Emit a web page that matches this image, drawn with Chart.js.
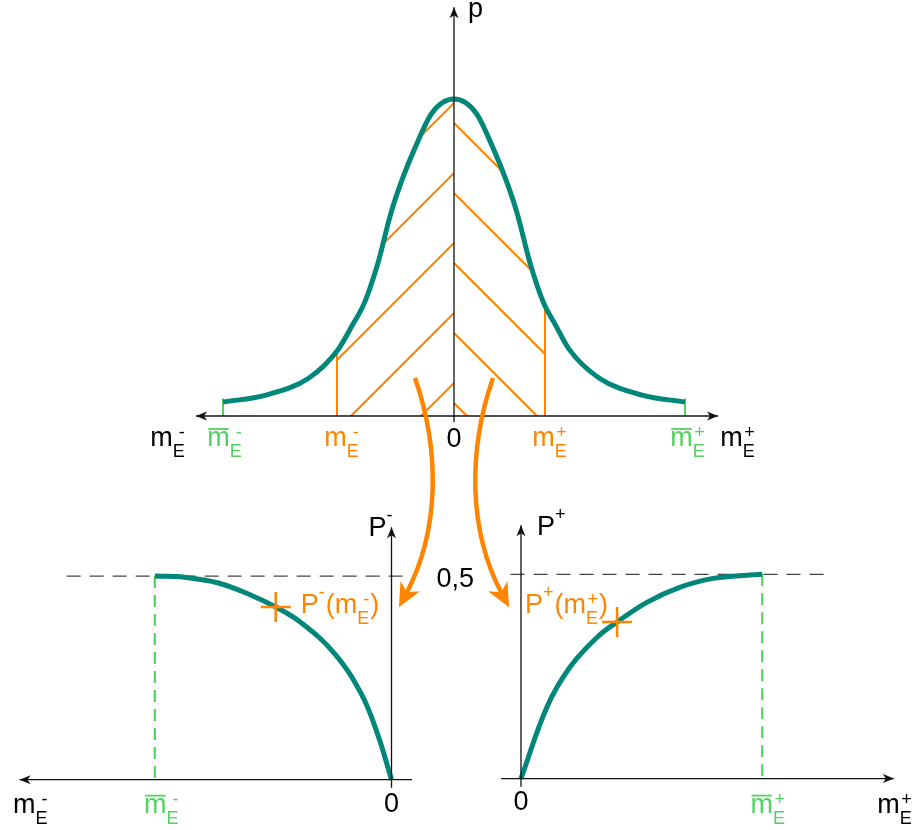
<!DOCTYPE html>
<html>
<head>
<meta charset="utf-8">
<title>Densité et probabilités</title>
<script src="https://cdn.jsdelivr.net/npm/chart.js"></script>
<style>
  html, body { margin: 0; padding: 0; background: #ffffff; }
  #wrap { position: relative; width: 917px; height: 830px; overflow: hidden; }
  #wrap canvas { position: absolute; left: 0; top: 0; }
</style>
</head>
<body>
<div id="wrap">
  <canvas id="densite" width="917" height="830"></canvas>
  <canvas id="probaMoins" width="917" height="830"></canvas>
  <canvas id="probaPlus" width="917" height="830"></canvas>
</div>
<script>
// densité p(m_E)
const densM = [-2.31, -1.88, -1.45, -1.17, -1.01, -0.91, -0.84, -0.76, -0.63, -0.52, -0.39, -0.22, 0,
               0.22, 0.39, 0.52, 0.63, 0.76, 0.84, 0.91, 1.01, 1.15, 1.45, 1.88, 2.31];
const densP = [0.044, 0.066, 0.12, 0.205, 0.29, 0.347, 0.404, 0.483, 0.641, 0.745, 0.846, 0.956, 1.00,
               0.956, 0.846, 0.745, 0.641, 0.483, 0.404, 0.347, 0.29, 0.211, 0.12, 0.066, 0.044];
const mMoins = -1.17;   // m_E^-
const mPlus = 0.91;     // m_E^+
const mBarre = 2.31;    // m̄_E
const demi = 0.5;

// P^-(m_E^-), axe orienté vers la gauche
const negM = [0, 0.14, 0.30, 0.56, 0.88, 1.13, 1.37, 1.69, 2.02, 2.31];
const negP = [0, 0.115, 0.213, 0.311, 0.385, 0.424, 0.453, 0.483, 0.497, 0.50];
const negPoint = [1.13, 0.424];

// P^+(m_E^+)
const posM = [0, 0.25, 0.47, 0.73, 0.92, 1.21, 1.52, 1.84, 2.31];
const posP = [0, 0.176, 0.273, 0.346, 0.383, 0.432, 0.468, 0.490, 0.50];
const posPoint = [0.92, 0.383];

// textes
const lblMmoins = [{n: 'm', b: 'E', p: '-'}];
const lblMplus = [{n: 'm', b: 'E', p: '+'}];
const lblBarMoins = [{n: 'm', b: 'E', p: '-', bar: true}];
const lblBarPlus = [{n: 'm', b: 'E', p: '+', bar: true}];
const lblZero = [{n: '0'}];
const lblDemi = [{n: '0,5'}];
const lblPMoins = [{n: 'P', p: '-'}];
const lblPPlus = [{n: 'P', p: '+'}];
const lblPdeMoins = [{n: 'P', p: '-'}, {n: '(m', b: 'E', p: '-'}, {n: ')'}];
const lblPdePlus = [{n: 'P', p: '+'}, {n: '(m', b: 'E', p: '+'}, {n: ')'}];

const TEAL = '#00877a', ORANGE = '#ff8400', GREEN = '#52d35f';
const FONT = '"Liberation Sans", Arial, sans-serif';

function head(ctx, tip, from, len, half, notch) {
  const a = Math.atan2(tip[1] - from[1], tip[0] - from[0]);
  ctx.save();
  ctx.translate(tip[0], tip[1]);
  ctx.rotate(a);
  ctx.beginPath();
  ctx.moveTo(0, 0);
  ctx.lineTo(-len, -half);
  ctx.lineTo(-len + notch, 0);
  ctx.lineTo(-len, half);
  ctx.closePath();
  ctx.fill();
  ctx.restore();
}

function bigArrow(ctx, pts) {
  const [S, C1, C2, E] = pts;
  ctx.strokeStyle = ORANGE;
  ctx.fillStyle = ORANGE;
  ctx.lineWidth = 4.5;
  ctx.beginPath();
  ctx.moveTo(S[0], S[1]);
  ctx.bezierCurveTo(C1[0], C1[1], C2[0], C2[1], E[0], E[1]);
  ctx.stroke();
  const dx = E[0] - C2[0], dy = E[1] - C2[1], d = Math.hypot(dx, dy);
  head(ctx, [E[0] + dx / d * 15, E[1] + dy / d * 15], E, 24, 11, 7);
}

// texte avec indice / exposant empilés
function drawMath(ctx, tok, x, y, align, color) {
  const big = '27px ' + FONT, small = '18px ' + FONT;
  const w = tok.map(t => {
    ctx.font = big;
    const wn = t.n ? ctx.measureText(t.n).width : 0;
    ctx.font = small;
    const wb = t.b ? ctx.measureText(t.b).width : 0;
    const wp = t.p ? ctx.measureText(t.p).width : 0;
    const ws = Math.max(wb, wp);
    return [wn, ws ? ws + 1 : 0, wb, wp];
  });
  const total = w.reduce((s, v) => s + v[0] + v[1], 0);
  let cx = align === 'center' ? x - total / 2 : x;
  ctx.fillStyle = color;
  ctx.strokeStyle = color;
  ctx.textAlign = 'left';
  ctx.textBaseline = 'alphabetic';
  tok.forEach((t, i) => {
    const [wn, ws, wb, wp] = w[i];
    ctx.font = big;
    if (t.n) ctx.fillText(t.n, cx, y);
    if (t.bar) {
      ctx.lineWidth = 1.8;
      ctx.beginPath();
      ctx.moveTo(cx + 1, y - 17);
      ctx.lineTo(cx + wn - 1, y - 17);
      ctx.stroke();
    }
    cx += wn;
    ctx.font = small;
    if (t.b) ctx.fillText(t.b, cx, y + 11);
    if (t.p) ctx.fillText(t.p, cx + (t.b ? wb - wp : 0), y + (t.b ? -8 : -15));
    cx += ws;
  });
}

function makeDecor(cfg) {
  return {
    id: 'decor',
    afterDatasetsDraw(chart) {
      const {ctx} = chart, sx = chart.scales.x, sy = chart.scales.y;
      const P = v => [sx.getPixelForValue(v[0]), sy.getPixelForValue(v[1])];
      ctx.save();
      (cfg.axes || []).forEach(a => {
        const A = P(a.from), B = P(a.to);
        ctx.strokeStyle = '#111';
        ctx.fillStyle = '#111';
        ctx.lineWidth = 1.3;
        ctx.beginPath();
        ctx.moveTo(A[0], A[1]);
        ctx.lineTo(B[0], B[1]);
        ctx.stroke();
        head(ctx, B, A, 11, 4.5, 3);
        if (a.both) head(ctx, A, B, 11, 4.5, 3);
      });
      (cfg.arrows || []).forEach(a => bigArrow(ctx, a.map(P)));
      (cfg.labels || []).forEach(l => {
        const [x, y] = P(l.at);
        drawMath(ctx, l.tok, x + (l.dx || 0), y + (l.dy || 0), l.align || 'center', l.color || '#000');
      });
      ctx.restore();
    }
  };
}

// hachures orange sous la courbe entre m_E^- et m_E^+
function hachures(chart) {
  if (!chart.chartArea) return 'rgba(0,0,0,0)';
  const sx = chart.scales.x, sy = chart.scales.y;
  const x0 = sx.getPixelForValue(0), y0 = sy.getPixelForValue(0);
  const xL = sx.getPixelForValue(mMoins), xR = sx.getPixelForValue(mPlus);
  const c = document.createElement('canvas');
  c.width = chart.width;
  c.height = chart.height;
  const g = c.getContext('2d');
  g.strokeStyle = ORANGE;
  g.lineWidth = 2;
  const pas = 70;
  [[xL, x0, -1, 33], [x0, xR, 1, 13]].forEach(([a, b, dir, phase]) => {
    g.save();
    g.beginPath();
    g.rect(a, 0, b - a, c.height);
    g.clip();
    g.beginPath();
    for (let k = -3; k < 12; k++) {
      const yk = y0 - phase - k * pas;
      g.moveTo(x0, yk);
      g.lineTo(x0 + dir * 600, yk + 600);
    }
    g.stroke();
    g.restore();
  });
  return g.createPattern(c, 'no-repeat');
}

const pts = (xs, ys) => xs.map((x, i) => ({x: x, y: ys[i]}));
const pAt = m => densP[densM.indexOf(m)];
const seg = (a, b) => [{x: a[0], y: a[1]}, {x: b[0], y: b[1]}];

function baseOptions(pad, xs, ys) {
  return {
    responsive: false,
    animation: false,
    events: [],
    devicePixelRatio: 1,
    layout: {padding: pad},
    scales: {
      x: Object.assign({type: 'linear', display: false}, xs),
      y: Object.assign({type: 'linear', display: false}, ys)
    },
    plugins: {legend: {display: false}, tooltip: {enabled: false}}
  };
}

// --- densité (haut) ---
new Chart(document.getElementById('densite'), {
  type: 'line',
  data: {
    datasets: [
      {data: pts(densM, densP), borderColor: TEAL, borderWidth: 5, cubicInterpolationMode: 'monotone',
       pointRadius: 0, fill: 'origin', backgroundColor: c => hachures(c.chart), order: 1},
      {data: seg([mMoins, 0], [mMoins, pAt(mMoins)]), borderColor: ORANGE, borderWidth: 2, pointRadius: 0, fill: false, order: 2},
      {data: seg([mPlus, 0], [mPlus, pAt(mPlus)]), borderColor: ORANGE, borderWidth: 2, pointRadius: 0, fill: false, order: 2},
      {data: seg([-mBarre, 0], [-mBarre, 0.055]), borderColor: GREEN, borderWidth: 2, pointRadius: 0, fill: false, order: 2},
      {data: seg([mBarre, 0], [mBarre, 0.055]), borderColor: GREEN, borderWidth: 2, pointRadius: 0, fill: false, order: 2}
    ]
  },
  options: baseOptions({left: 194, right: 193, top: 4, bottom: 414}, {min: -2.6, max: 2.7}, {min: 0, max: 1.3}),
  plugins: [makeDecor({
    axes: [{from: [-2.58, 0], to: [2.64, 0], both: true}, {from: [0, -0.02], to: [0, 1.29]}],
    arrows: [
      [[-0.39, 0.12], [-0.14, -0.107], [-0.14, -0.36], [-0.48, -0.562]],
      [[0.39, 0.12], [0.14, -0.107], [0.14, -0.36], [0.48, -0.562]]
    ],
    labels: [
      {at: [-2.86, 0], dy: 30, tok: lblMmoins},
      {at: [-mBarre, 0], dx: 2, dy: 30, tok: lblBarMoins, color: GREEN},
      {at: [mMoins, 0], dx: 5, dy: 30, tok: lblMmoins, color: ORANGE},
      {at: [0, 0], dy: 31, tok: lblZero},
      {at: [mPlus, 0], dx: 5, dy: 30, tok: lblMplus, color: ORANGE},
      {at: [mBarre, 0], dx: 3, dy: 30, tok: lblBarPlus, color: GREEN},
      {at: [2.84, 0], dy: 30, tok: lblMplus},
      {at: [0, 1.3], dx: 14, dy: 13, tok: [{n: 'p'}], align: 'left'}
    ]
  })]
});

// --- P^- (bas gauche) ---
new Chart(document.getElementById('probaMoins'), {
  type: 'line',
  data: {
    datasets: [
      {data: pts(negM, negP), borderColor: TEAL, borderWidth: 5, tension: 0.4, pointRadius: 0, fill: false, order: 1},
      {data: seg([3.17, demi], [-0.11, demi]), borderColor: '#444', borderWidth: 1.3, borderDash: [14, 9], pointRadius: 0, fill: false, order: 3},
      {data: seg([mBarre, demi], [mBarre, 0]), borderColor: GREEN, borderWidth: 2.2, borderDash: [12, 7], pointRadius: 0, fill: false, order: 2},
      {data: [{x: negPoint[0], y: negPoint[1]}], showLine: false, pointStyle: 'cross', pointRadius: 15,
       pointBorderColor: ORANGE, pointBorderWidth: 2.5, order: 0}
    ]
  },
  options: baseOptions({left: 15, right: 505, top: 515, bottom: 30}, {min: -0.2, max: 3.65, reverse: true}, {min: -0.05, max: 0.65}),
  plugins: [makeDecor({
    axes: [{from: [-0.2, 0], to: [3.63, 0]}, {from: [0, -0.02], to: [0, 0.62]}],
    labels: [
      {at: [0, 0.62], dx: -23, dy: 9, tok: lblPMoins, align: 'left'},
      {at: [0, demi], dx: 45, dy: 11, tok: lblDemi, align: 'left'},
      {at: [0, 0], dy: 32, tok: lblZero},
      {at: [mBarre, 0], dx: 7, dy: 33, tok: lblBarMoins, color: GREEN},
      {at: [3.52, 0], dy: 33, tok: lblMmoins},
      {at: negPoint, dx: 25, dy: 6, tok: lblPdeMoins, align: 'left', color: ORANGE}
    ]
  })]
});

// --- P^+ (bas droite) ---
new Chart(document.getElementById('probaPlus'), {
  type: 'line',
  data: {
    datasets: [
      {data: pts(posM, posP), borderColor: TEAL, borderWidth: 5, tension: 0.4, pointRadius: 0, fill: false, order: 1},
      {data: seg([-0.1, demi], [2.93, demi]), borderColor: '#444', borderWidth: 1.3, borderDash: [14, 9], pointRadius: 0, fill: false, order: 3},
      {data: seg([mBarre, demi], [mBarre, 0]), borderColor: GREEN, borderWidth: 2.2, borderDash: [12, 7], pointRadius: 0, fill: false, order: 2},
      {data: [{x: posPoint[0], y: posPoint[1]}], showLine: false, pointStyle: 'cross', pointRadius: 15,
       pointBorderColor: ORANGE, pointBorderWidth: 2.5, order: 0}
    ]
  },
  options: baseOptions({left: 498, right: 20, top: 513, bottom: 31}, {min: -0.22, max: 3.6}, {min: -0.05, max: 0.65}),
  plugins: [makeDecor({
    axes: [{from: [-0.19, 0], to: [3.57, 0]}, {from: [0, -0.02], to: [0, 0.62]}],
    labels: [
      {at: [0, 0.62], dx: 16, dy: 10, tok: lblPPlus, align: 'left'},
      {at: [0, 0], dy: 31, tok: lblZero},
      {at: [mBarre, 0], dx: 6, dy: 34, tok: lblBarPlus, color: GREEN},
      {at: [3.58, 0], dy: 34, tok: lblMplus},
      {at: posPoint, dx: -92, dy: -9, tok: lblPdePlus, align: 'left', color: ORANGE}
    ]
  })]
});
</script>
</body>
</html>
